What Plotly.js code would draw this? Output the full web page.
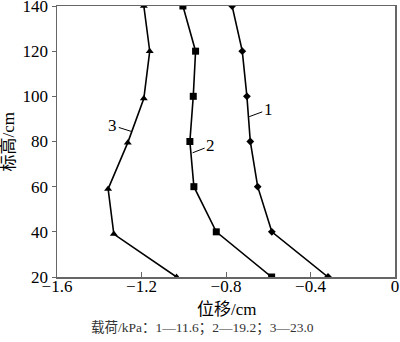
<!DOCTYPE html>
<html><head><meta charset="utf-8">
<script src="https://cdn.plot.ly/plotly-3.0.1.min.js"></script>
<style>html,body{margin:0;padding:0;background:#fff}#c{width:400px;height:342px}</style>
</head><body><div id="c"></div>
<script>
const heights = [20, 40, 60, 80, 100, 120, 140];
const disp1 = [-0.317, -0.583, -0.650, -0.685, -0.701, -0.723, -0.771];
const disp2 = [-0.584, -0.846, -0.952, -0.971, -0.955, -0.944, -1.004];
const heights3 = [20, 39, 59, 79.5, 99, 120, 140];
const disp3 = [-1.034, -1.331, -1.358, -1.265, -1.189, -1.161, -1.189];
const xTicks = [-1.6, -1.2, -0.8, -0.4, 0];
const yTicks = [20, 40, 60, 80, 100, 120, 140];
const labels = ['1', '2', '3'];
const labelAt = [[-0.690, 91], [-0.958, 75], [-1.246, 84.4]];
const xTitle = '位移/cm';
const yTitle = '标高/cm';
const note = '载荷/kPa：1—11.6；2—19.2；3—23.0';

const serif = 'Liberation Serif';
const cjk = 'Liberation Serif, Noto Sans CJK SC';
const line = {color: '#000', width: 1.6};
const traces = [
  {x: disp1, y: heights, mode: 'lines+markers', line, marker: {symbol: 'diamond', size: 6, color: '#000'}},
  {x: disp2, y: heights, mode: 'lines+markers', line, marker: {symbol: 'square', size: 7, color: '#000'}},
  {x: disp3, y: heights3, mode: 'lines+markers', line, marker: {symbol: 'triangle-up', size: 7, color: '#000'}}
];
const offs = [[19, -7], [18, -7], [-19, -6]];
const ann = labels.map((t, i) => ({
  x: labelAt[i][0], y: labelAt[i][1], xref: 'x', yref: 'y', text: t,
  showarrow: true, arrowhead: 0, arrowwidth: 1, arrowcolor: '#000',
  ax: offs[i][0], ay: offs[i][1], font: {family: serif, size: 17, color: '#000'}
}));
ann.push({x: 0.503, y: 0, xref: 'paper', yref: 'paper', yshift: -32, yanchor: 'middle', xanchor: 'center',
  showarrow: false, text: xTitle, font: {family: cjk, size: 17, color: '#000'}});
ann.push({x: 0, y: 0.5, xref: 'paper', yref: 'paper', xshift: -49, xanchor: 'center', yanchor: 'middle', textangle: -90,
  showarrow: false, text: yTitle, font: {family: cjk, size: 17, color: '#000'}});
ann.push({x: 0.43, y: 0, xref: 'paper', yref: 'paper', yshift: -50.5, yanchor: 'middle', xanchor: 'center',
  showarrow: false, text: note, font: {family: cjk, size: 13.5, color: '#333'}});

const axisCommon = {showgrid: false, zeroline: false, showline: true, linecolor: '#666', linewidth: 1.5,
  mirror: true, tickcolor: '#666', tickwidth: 1, ticklabeloverflow: 'allow',
  tickfont: {family: serif, size: 17, color: '#000'}};
const layout = {
  width: 400, height: 342, showlegend: false,
  font: {family: serif, color: '#000'},
  margin: {l: 57, r: 5, t: 6, b: 64.5},
  paper_bgcolor: '#fff', plot_bgcolor: '#fff',
  xaxis: Object.assign({}, axisCommon, {range: [-1.6, 0], tickvals: xTicks,
    ticktext: xTicks.map(v => v === 0 ? '0' : '\u2212' + Math.abs(v).toFixed(1)),
    ticks: 'inside', ticklen: 5, ticklabelstandoff: -7}),
  yaxis: Object.assign({}, axisCommon, {range: [20, 140], tickvals: yTicks, ticks: 'outside', ticklen: 4}),
  annotations: ann
};
Plotly.newPlot('c', traces, layout, {displayModeBar: false, staticPlot: true});
</script></body></html>
